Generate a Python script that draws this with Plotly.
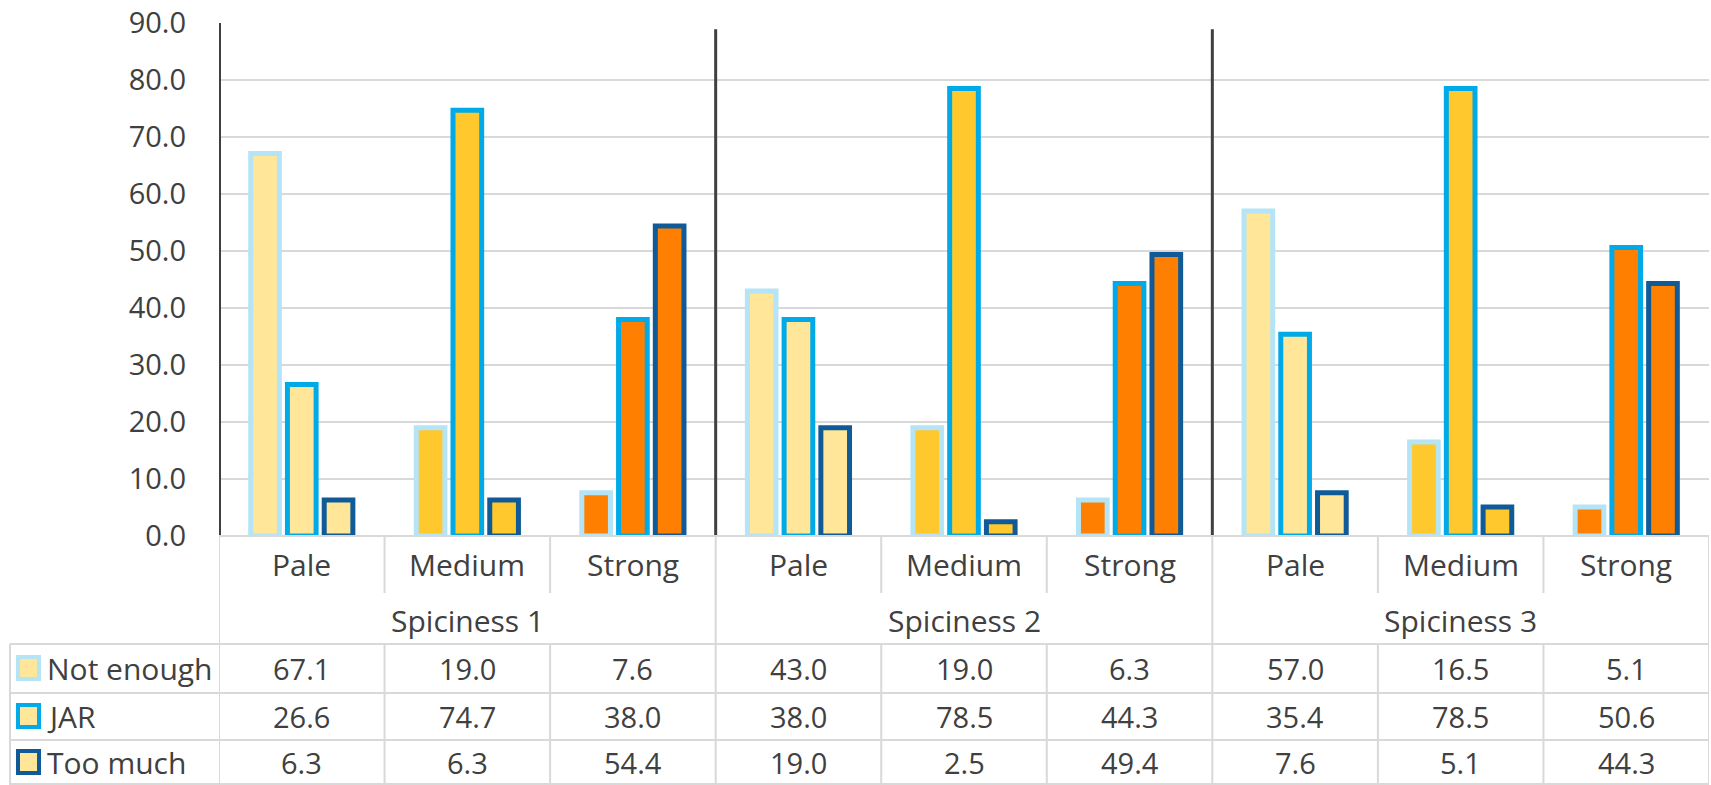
import plotly.graph_objects as go

groups = ["Spiciness 1", "Spiciness 2", "Spiciness 3"]
levels = ["Pale", "Medium", "Strong"]
series = ["Not enough", "JAR", "Too much"]
not_enough = [67.1, 19.0, 7.6, 43.0, 19.0, 6.3, 57.0, 16.5, 5.1]
jar = [26.6, 74.7, 38.0, 38.0, 78.5, 44.3, 35.4, 78.5, 50.6]
too_much = [6.3, 6.3, 54.4, 19.0, 2.5, 49.4, 7.6, 5.1, 44.3]
y_ticks = [0, 10, 20, 30, 40, 50, 60, 70, 80, 90]

values = [not_enough, jar, too_much]
level_fill = {"Pale": "#FFE699", "Medium": "#FFC92E", "Strong": "#FF8000"}
series_line = ["#B4E4F5", "#00A9E8", "#0F5A97"]

categories = [lv for g in groups for lv in levels]
xs = list(range(len(categories)))
fills = [level_fill[c] for c in categories]

W_FIG, H_FIG = 1711, 785
L, R, T, B = 219, 1709, 23, 536
PW, PH = R - L, B - T


def px_x(px):
    return (px - L) / PW


def px_y(py):
    return (B - py) / PH


FONT = "Open Sans"
TXT = "#404040"
GRID = "#d9d9d9"

fig = go.Figure()
for name, vals, lc in zip(series, values, series_line):
    fig.add_trace(go.Bar(
        x=xs, y=vals, name=name,
        marker=dict(color=fills, line=dict(color=lc, width=5)),
        hoverinfo="skip", showlegend=False,
    ))

shapes = []
# y axis line
shapes.append(dict(type="line", xref="x", yref="y", x0=-0.5, x1=-0.5, y0=0, y1=90.9,
                   line=dict(color="#404040", width=4)))
# group dividers inside the plot
for gi in range(1, len(groups)):
    xb = gi * len(levels) - 0.5
    shapes.append(dict(type="line", xref="x", yref="y", x0=xb, x1=xb, y0=0, y1=88.9,
                       line=dict(color="#404040", width=3)))

tl = dict(color=GRID, width=2)
# horizontal table lines
shapes.append(dict(type="line", xref="paper", yref="paper", x0=0, x1=1, y0=px_y(536), y1=px_y(536), line=tl))
for py in [644, 693, 740, 784]:
    shapes.append(dict(type="line", xref="paper", yref="paper", x0=px_x(10), x1=1, y0=px_y(py), y1=px_y(py), line=tl))
# vertical lines
n = len(categories)
for k in range(n + 1):
    xb = k - 0.5
    is_group = (k % len(levels) == 0)
    top_end = 644 if is_group else 593
    shapes.append(dict(type="line", xref="x", yref="paper", x0=xb, x1=xb,
                       y0=px_y(536), y1=px_y(top_end), line=tl))
    shapes.append(dict(type="line", xref="x", yref="paper", x0=xb, x1=xb,
                       y0=px_y(644), y1=px_y(785), line=tl))
shapes.append(dict(type="line", xref="paper", yref="paper", x0=px_x(10), x1=px_x(10),
                   y0=px_y(644), y1=px_y(785), line=tl))

annotations = []
wf = dict(family=FONT, size=30, color=TXT)
nf = dict(family=FONT, size=29, color=TXT)
for i, c in enumerate(categories):
    annotations.append(dict(x=i, y=px_y(564), xref="x", yref="paper", text=c, showarrow=False,
                            xanchor="center", yanchor="middle", font=wf))
for gi, g in enumerate(groups):
    annotations.append(dict(x=gi * len(levels) + (len(levels) - 1) / 2, y=px_y(620), xref="x", yref="paper",
                            text=g, showarrow=False, xanchor="center", yanchor="middle", font=wf))
row_y = [668, 716, 762]
for si, (name, vals, lc) in enumerate(zip(series, values, series_line)):
    ry = row_y[si]
    for i, v in enumerate(vals):
        annotations.append(dict(x=i, y=px_y(ry), xref="x", yref="paper", text=f"{v:.1f}", showarrow=False,
                                xanchor="center", yanchor="middle", font=nf))
    annotations.append(dict(x=px_x(45), y=px_y(ry), xref="paper", yref="paper", text=name, showarrow=False,
                            xanchor="left", yanchor="middle", font=wf))
    shapes.append(dict(type="rect", xref="paper", yref="paper",
                       x0=px_x(18), x1=px_x(39), y0=px_y(ry - 11), y1=px_y(ry + 11),
                       fillcolor="#FFE699", line=dict(color=lc, width=4)))

fig.update_layout(
    width=W_FIG, height=H_FIG,
    margin=dict(l=L, r=W_FIG - R, t=T, b=H_FIG - B),
    paper_bgcolor="white", plot_bgcolor="white",
    barmode="group", bargap=0.334, bargroupgap=0.22,
    font=dict(family=FONT, size=28, color=TXT),
    xaxis=dict(range=[-0.5, n - 0.5], showticklabels=False, showgrid=False, zeroline=False,
               showline=False, ticks=""),
    yaxis=dict(range=[0, 90], tickvals=y_ticks, ticktext=[f"{t:.1f}" for t in y_ticks],
               showgrid=True, gridcolor=GRID, gridwidth=2, zeroline=False, showline=False,
               ticks="", ticklabelstandoff=32, tickfont=dict(family=FONT, size=29, color=TXT)),
    shapes=shapes, annotations=annotations,
)

fig.write_html("out.html", config={"displayModeBar": False, "staticPlot": True},
               post_script="document.body.style.margin='0px';document.body.style.overflow='hidden';")
